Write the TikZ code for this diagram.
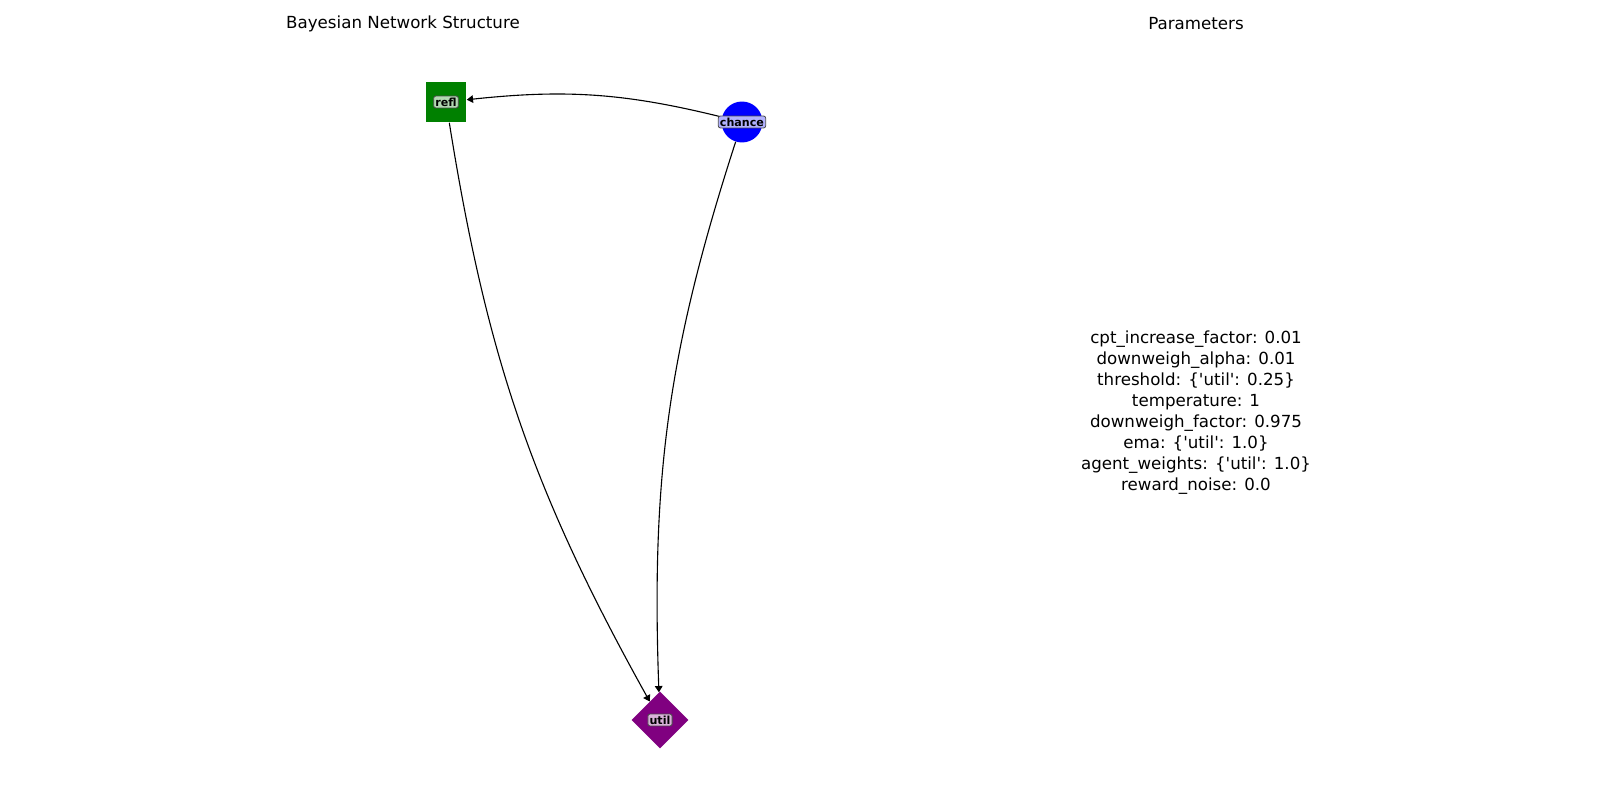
\documentclass[tikz,border=0pt]{standalone}
\usepackage{fontspec}
\setmainfont{DejaVu Sans}
\usepackage{tikz}
\usetikzlibrary{arrows.meta,shapes.geometric,positioning}
\definecolor{bngreen}{RGB}{0,128,0}
\definecolor{bnblue}{RGB}{0,0,255}
\definecolor{bnpurple}{RGB}{128,0,128}
\tikzstyle{edge} = [line width=0.8pt, -{Triangle[length=4.5pt,width=5.5pt]}, bend right=10]
\tikzstyle{tag} = [rectangle, rounded corners=1.5pt, draw=black!70, line width=0.6pt, inner sep=1.2pt, font=\fontsize{8}{9}\selectfont\bfseries]
\tikzstyle{heading} = [font=\fontsize{12}{14}\selectfont]

\begin{document}
\begin{tikzpicture}[x=0.72pt,y=-0.72pt]
\useasboundingbox (0,0) rectangle (1600,800);

% Titles
\node[heading] (bntitle) at (403,24) {Bayesian Network Structure};
\node[heading] (partitle) at (1196,24) {Parameters};

% Nodes
\node[rectangle, fill=bngreen, minimum size=29.5pt, inner sep=0pt] (refl) at (446,102) {};
\node[circle, fill=bnblue, minimum size=29.5pt, inner sep=0pt] (chance) at (742,122) {};
\node[diamond, fill=bnpurple, minimum width=41pt, minimum height=41pt, inner sep=0pt] (util) at (660,720) {};

% Edges
\draw[edge] (chance) to (refl);
\draw[edge] (refl) to (util);
\draw[edge] (chance) to (util);

% Labels
\node[tag, fill=bngreen!30] (refltag) at (refl) {refl};
\node[tag, fill=bnblue!30] (chancetag) at (chance) {chance};
\node[tag, fill=bnpurple!30] (utiltag) at (util) {util};

% Parameters
\node[align=center, font=\fontsize{12}{15.1}\selectfont] (params) at (1196,413) {%
cpt\_increase\_factor: 0.01\\
downweigh\_alpha: 0.01\\
threshold: \{\textquotesingle util\textquotesingle: 0.25\}\\
temperature: 1\\
downweigh\_factor: 0.975\\
ema: \{\textquotesingle util\textquotesingle: 1.0\}\\
agent\_weights: \{\textquotesingle util\textquotesingle: 1.0\}\\
reward\_noise: 0.0};
\end{tikzpicture}
\end{document}
